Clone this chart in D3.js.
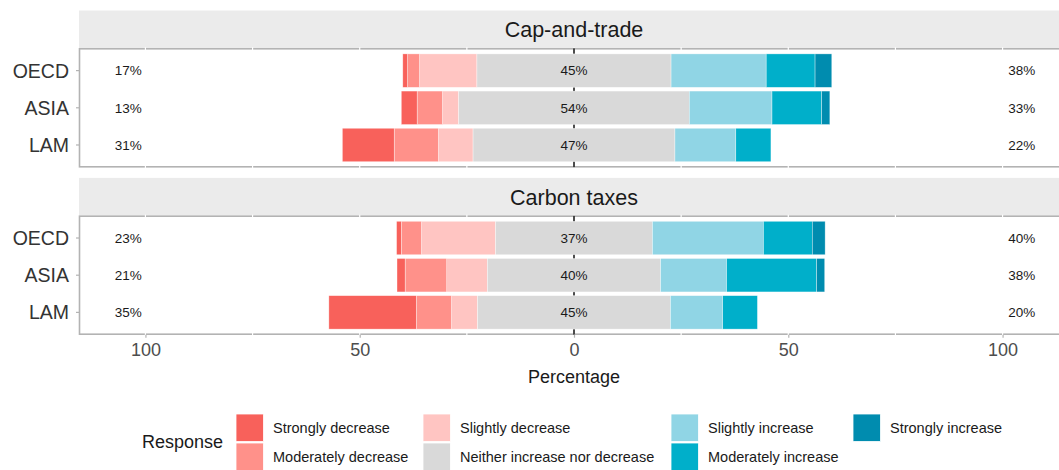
<!DOCTYPE html>
<html>
<head>
<meta charset="utf-8">
<script src="https://cdn.jsdelivr.net/npm/d3@7"></script>
<style>
  body { margin: 0; background: #fff; }
  svg { display: block; font-family: "Liberation Sans", Arial, sans-serif; }
</style>
</head>
<body>
<svg id="chart" width="1059" height="470"></svg>
<script>
// ---- data ----
const regions = ["OECD", "ASIA", "LAM"];
const responses = ["Strongly decrease", "Moderately decrease", "Slightly decrease",
  "Neither increase nor decrease", "Slightly increase", "Moderately increase", "Strongly increase"];
const colors = ["#f8615b", "#ff918a", "#ffc5c2", "#d9d9d9", "#90d5e5", "#00afca", "#008caf"];
const panels = ["Cap-and-trade", "Carbon taxes"];

// percentages per region, in response order
const capTrade = [
  [1.1, 2.8, 13.4, 45.3, 22.2, 11.4, 3.9],   // OECD
  [3.7, 5.9, 3.8, 53.8, 19.3, 11.6, 1.9],    // ASIA
  [12.1, 10.3, 8.1, 47.1, 14.2, 8.2, 0]      // LAM
];
const carbonTax = [
  [1.1, 4.7, 17.3, 36.6, 25.9, 11.4, 3.0],   // OECD
  [1.9, 9.7, 9.5, 40.4, 15.4, 21.0, 1.9],    // ASIA
  [20.4, 8.2, 6.1, 45.0, 12.2, 8.1, 0]       // LAM
];
const xTicks = [-100, -50, 0, 50, 100];
const xGrid = [-100, -75, -50, -25, 0, 25, 50, 75, 100];

const panelData = [capTrade, carbonTax];

// ---- layout ----
const svg = d3.select("#chart");
const x = d3.scaleLinear().domain([-115.5, 115.5]).range([79, 1069]);
const panelTops = [48.3, 215.7];
const stripH = 37.8;
const panelH = 119;

const borderCol = "#b3b3b3";

panels.forEach((name, p) => {
  let top = panelTops[p];
  // discrete positions like ggplot (expand 0.6 each side)
  let yPos = d3.scaleLinear().domain([0.4, 3.6]).range([top, top + panelH]);
  let bw = yPos(1.9) - yPos(1);

  let g = svg.append("g");

  // strip
  g.append("rect")
    .attr("x", x.range()[0]).attr("y", top - stripH)
    .attr("width", x.range()[1] - x.range()[0]).attr("height", stripH)
    .attr("fill", "#ebebeb");
  g.append("text")
    .attr("x", x(0)).attr("y", top - stripH / 2)
    .attr("dy", "0.36em")
    .attr("text-anchor", "middle")
    .attr("font-size", 21.5)
    .attr("fill", "#1a1a1a")
    .text(name);

  // panel border
  g.append("rect")
    .attr("x", x.range()[0] + 0.5).attr("y", top + 0.5)
    .attr("width", x.range()[1] - x.range()[0]).attr("height", panelH - 1)
    .attr("fill", "white")
    .attr("stroke", borderCol).attr("stroke-width", 1.6);

  // grid lines (white, cut the border)
  g.selectAll(".grid")
    .data(xGrid)
    .join("line")
    .attr("x1", d => x(d)).attr("x2", d => x(d))
    .attr("y1", top - 1).attr("y2", top + panelH + 1)
    .attr("stroke", "white").attr("stroke-width", 1.2);

  // zero line, mostly hidden behind the bars
  g.append("line")
    .attr("x1", x(0)).attr("x2", x(0))
    .attr("y1", top).attr("y2", top + panelH)
    .attr("stroke", "#111").attr("stroke-width", 1.5);

  // bars
  panelData[p].forEach((vals, r) => {
    let cy = yPos(r + 1);
    let neutral = vals[3];
    let segs = [];
    // negative side, from neutral outwards
    let pos = -neutral / 2;
    for (let i = 2; i >= 0; i--) {
      segs.push({ i: i, x0: pos - vals[i], x1: pos });
      pos -= vals[i];
    }
    segs.push({ i: 3, x0: -neutral / 2, x1: neutral / 2 });
    pos = neutral / 2;
    for (let i = 4; i < 7; i++) {
      segs.push({ i: i, x0: pos, x1: pos + vals[i] });
      pos += vals[i];
    }
    segs = segs.filter(s => s.x1 - s.x0 > 0);

    g.selectAll(".bar" + r)
      .data(segs)
      .join("rect")
      .attr("x", d => x(d.x0))
      .attr("width", d => x(d.x1) - x(d.x0))
      .attr("y", cy - bw / 2)
      .attr("height", bw)
      .attr("fill", d => colors[d.i])
      .attr("stroke", "white").attr("stroke-width", 0.6).attr("stroke-opacity", 0.6);

    let low = Math.round(vals[0] + vals[1] + vals[2]);
    let high = Math.round(vals[4] + vals[5] + vals[6]);
    let mid = Math.round(neutral);
    let labs = [[-104, low], [0, mid], [104.5, high]];
    g.selectAll(".lab" + r)
      .data(labs)
      .join("text")
      .attr("x", d => x(d[0])).attr("y", cy)
      .attr("dy", "0.36em")
      .attr("text-anchor", "middle")
      .attr("font-size", 13.5)
      .attr("fill", "#1a1a1a")
      .text(d => d[1] + "%");
  });

  // y axis labels + ticks
  regions.forEach((reg, r) => {
    let cy = yPos(r + 1);
    g.append("line")
      .attr("x1", x.range()[0] - 3).attr("x2", x.range()[0])
      .attr("y1", cy).attr("y2", cy)
      .attr("stroke", borderCol).attr("stroke-width", 1.2);
    g.append("text")
      .attr("x", 69).attr("y", cy)
      .attr("dy", "0.36em")
      .attr("text-anchor", "end")
      .attr("font-size", 19.5)
      .attr("fill", "#333")
      .text(reg);
  });
});

// x axis
let bottom = panelTops[1] + panelH;
let xAxis = svg.append("g")
  .attr("transform", `translate(0,${bottom})`)
  .call(d3.axisBottom(x).tickValues(xTicks).tickSize(3).tickPadding(6).tickFormat(d => Math.abs(d)));
xAxis.select(".domain").remove();
xAxis.selectAll("line").attr("stroke", borderCol).attr("stroke-width", 1.2);
xAxis.selectAll("text")
  .attr("font-family", "Liberation Sans, Arial, sans-serif")
  .attr("font-size", 18)
  .attr("fill", "#4d4d4d");

svg.append("text")
  .attr("x", x(0)).attr("y", 377)
  .attr("dy", "0.36em")
  .attr("text-anchor", "middle")
  .attr("font-size", 18)
  .attr("fill", "#1a1a1a")
  .text("Percentage");

// legend
const legCols = [236, 423, 671, 853];
const keySize = 27.5;
const legRow0 = 414;
svg.append("text")
  .attr("x", 142).attr("y", 442)
  .attr("dy", "0.36em")
  .attr("font-size", 18)
  .attr("fill", "#1a1a1a")
  .text("Response");

let leg = svg.selectAll(".leg")
  .data(responses)
  .join("g")
  .attr("transform", (d, i) => `translate(${legCols[Math.floor(i / 2)]},${legRow0 + (i % 2) * (keySize + 1.5)})`);
leg.append("rect")
  .attr("width", keySize).attr("height", keySize)
  .attr("fill", (d, i) => colors[i])
  .attr("stroke", "white").attr("stroke-width", 0.8);
leg.append("text")
  .attr("x", keySize + 9.5).attr("y", keySize / 2)
  .attr("dy", "0.36em")
  .attr("font-size", 14.5)
  .attr("fill", "#1a1a1a")
  .text(d => d);
</script>
</body>
</html>
